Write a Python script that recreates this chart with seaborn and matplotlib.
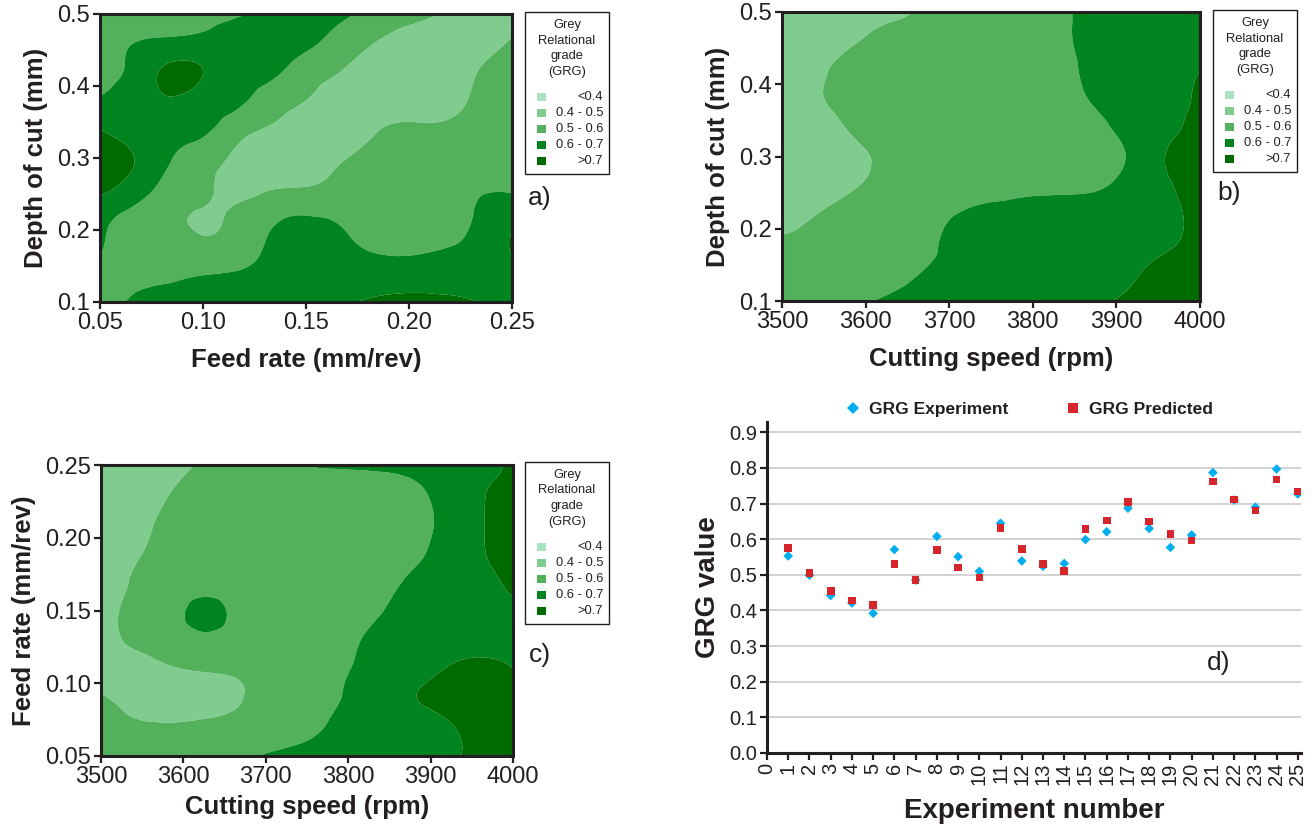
import numpy as np
import pandas as pd
import matplotlib
matplotlib.use("Agg")
import matplotlib.pyplot as plt
import matplotlib.tri as mtri
from matplotlib.patches import Rectangle
import seaborn as sns

# ------------------------------------------------------------------ data
# GRG class limits / colours of the response-surface plots
grg_levels = [0.0, 0.4, 0.5, 0.6, 0.7, 1.0]
grg_labels = ["<0.4", "0.4 - 0.5", "0.5 - 0.6", "0.6 - 0.7", ">0.7"]
grg_colors = ["#a8e4c2", "#80cc8f", "#53b05b", "#00841f", "#006b00"]
key_title = ["Grey", "Relational", "grade", "(GRG)"]

# axis ranges of the three surfaces
feed_range = [0.05, 0.25]
doc_range = [0.1, 0.5]
speed_range = [3500, 4000]

feed_ticks = [0.05, 0.10, 0.15, 0.20, 0.25]
doc_ticks = [0.1, 0.2, 0.3, 0.4, 0.5]
speed_ticks = [3500, 3600, 3700, 3800, 3900, 4000]

# GRG read on a 13 (x) by 11 (y) sampling of each surface, rows from low y to high y
grg_feed_doc = [
    [0.56, 0.61, 0.63, 0.64, 0.65, 0.67, 0.68, 0.69, 0.71, 0.72, 0.72, 0.70, 0.68],
    [0.57, 0.58, 0.585, 0.595, 0.605, 0.63, 0.65, 0.65, 0.65, 0.65, 0.65, 0.66, 0.67],
    [0.61, 0.56, 0.55, 0.52, 0.55, 0.61, 0.63, 0.62, 0.58, 0.57, 0.59, 0.63, 0.71],
    [0.64, 0.57, 0.53, 0.49, 0.52, 0.58, 0.60, 0.585, 0.55, 0.54, 0.55, 0.61, 0.66],
    [0.72, 0.66, 0.57, 0.52, 0.47, 0.49, 0.50, 0.53, 0.55, 0.56, 0.57, 0.59, 0.59],
    [0.71, 0.70, 0.61, 0.55, 0.48, 0.45, 0.45, 0.49, 0.53, 0.55, 0.56, 0.57, 0.58],
    [0.70, 0.67, 0.64, 0.62, 0.54, 0.49, 0.45, 0.44, 0.49, 0.52, 0.52, 0.55, 0.56],
    [0.61, 0.65, 0.69, 0.66, 0.62, 0.55, 0.50, 0.45, 0.44, 0.44, 0.45, 0.52, 0.55],
    [0.57, 0.63, 0.72, 0.70, 0.65, 0.62, 0.55, 0.50, 0.45, 0.44, 0.44, 0.50, 0.55],
    [0.55, 0.60, 0.62, 0.63, 0.65, 0.65, 0.62, 0.56, 0.50, 0.46, 0.44, 0.46, 0.51],
    [0.55, 0.56, 0.56, 0.57, 0.59, 0.63, 0.64, 0.62, 0.57, 0.54, 0.49, 0.45, 0.47],
]

grg_speed_doc = [
    [0.53, 0.55, 0.58, 0.61, 0.63, 0.64, 0.65, 0.66, 0.67, 0.69, 0.71, 0.73, 0.75],
    [0.52, 0.53, 0.55, 0.57, 0.60, 0.62, 0.64, 0.65, 0.66, 0.67, 0.69, 0.72, 0.74],
    [0.51, 0.52, 0.54, 0.56, 0.58, 0.62, 0.64, 0.65, 0.65, 0.66, 0.67, 0.69, 0.72],
    [0.47, 0.50, 0.53, 0.55, 0.57, 0.60, 0.62, 0.63, 0.64, 0.64, 0.65, 0.68, 0.72],
    [0.45, 0.46, 0.49, 0.53, 0.55, 0.56, 0.57, 0.58, 0.58, 0.59, 0.63, 0.69, 0.72],
    [0.44, 0.45, 0.475, 0.52, 0.54, 0.55, 0.55, 0.56, 0.56, 0.57, 0.61, 0.70, 0.73],
    [0.44, 0.46, 0.51, 0.54, 0.55, 0.55, 0.55, 0.56, 0.56, 0.58, 0.63, 0.68, 0.72],
    [0.45, 0.49, 0.53, 0.54, 0.55, 0.55, 0.55, 0.56, 0.57, 0.61, 0.64, 0.67, 0.71],
    [0.44, 0.48, 0.53, 0.54, 0.55, 0.55, 0.56, 0.57, 0.58, 0.62, 0.64, 0.66, 0.70],
    [0.43, 0.46, 0.49, 0.53, 0.54, 0.55, 0.56, 0.57, 0.59, 0.62, 0.64, 0.65, 0.67],
    [0.43, 0.44, 0.45, 0.47, 0.51, 0.54, 0.56, 0.57, 0.59, 0.62, 0.64, 0.65, 0.66],
]

grg_speed_feed = [
    [0.52, 0.53, 0.54, 0.56, 0.58, 0.61, 0.63, 0.65, 0.66, 0.67, 0.69, 0.71, 0.72],
    [0.52, 0.51, 0.51, 0.52, 0.54, 0.56, 0.58, 0.62, 0.64, 0.66, 0.69, 0.72, 0.73],
    [0.51, 0.47, 0.45, 0.46, 0.49, 0.55, 0.57, 0.60, 0.63, 0.69, 0.72, 0.73, 0.72],
    [0.45, 0.46, 0.49, 0.51, 0.52, 0.55, 0.57, 0.59, 0.63, 0.66, 0.70, 0.72, 0.70],
    [0.45, 0.52, 0.55, 0.58, 0.56, 0.55, 0.55, 0.57, 0.62, 0.64, 0.66, 0.67, 0.67],
    [0.44, 0.53, 0.56, 0.63, 0.57, 0.55, 0.55, 0.56, 0.59, 0.63, 0.65, 0.66, 0.68],
    [0.44, 0.51, 0.54, 0.56, 0.55, 0.55, 0.55, 0.56, 0.57, 0.61, 0.64, 0.67, 0.72],
    [0.44, 0.49, 0.53, 0.55, 0.55, 0.55, 0.55, 0.56, 0.56, 0.58, 0.63, 0.69, 0.73],
    [0.43, 0.47, 0.52, 0.54, 0.55, 0.55, 0.55, 0.56, 0.56, 0.57, 0.62, 0.69, 0.73],
    [0.43, 0.45, 0.50, 0.53, 0.54, 0.55, 0.56, 0.56, 0.57, 0.58, 0.63, 0.69, 0.73],
    [0.43, 0.44, 0.47, 0.51, 0.53, 0.56, 0.60, 0.61, 0.61, 0.62, 0.64, 0.66, 0.72],
]

# panel d
experiment_no = list(range(1, 26))
grg_experiment = [0.553, 0.499, 0.442, 0.421, 0.392, 0.571, 0.485, 0.608, 0.551, 0.510,
                  0.645, 0.539, 0.524, 0.532, 0.599, 0.621, 0.687, 0.630, 0.577, 0.612,
                  0.787, 0.710, 0.690, 0.797, 0.727]
grg_predicted = [0.576, 0.505, 0.455, 0.428, 0.415, 0.531, 0.486, 0.569, 0.521, 0.493,
                 0.632, 0.572, 0.531, 0.510, 0.628, 0.652, 0.705, 0.650, 0.614, 0.596,
                 0.762, 0.711, 0.681, 0.768, 0.734]
series_names = ["GRG Experiment", "GRG Predicted"]
series_colors = ["#00aeef", "#d7262b"]
grg_ticks = [0.0, 0.1, 0.2, 0.3, 0.4, 0.5, 0.6, 0.7, 0.8, 0.9]

# ------------------------------------------------------------------ style
INK = "#231f20"
sns.set_theme(style="ticks")
plt.rcParams["font.family"] = ["Liberation Sans", "DejaVu Sans"]
plt.rcParams.update({
    "text.color": INK, "axes.labelcolor": INK, "xtick.color": INK, "ytick.color": INK,
    "axes.edgecolor": INK,
})

W, H = 1312, 827
fig = plt.figure(figsize=(W / 100, H / 100), dpi=100)


def px_axes(l, t, r, b):
    return fig.add_axes([l / W, 1 - b / H, (r - l) / W, (b - t) / H])


def fx(p):
    return p / W


def fy(p):
    return 1 - p / H


def draw_surface(ax, xr, yr, grid, xticks, yticks, xfmt, yfmt, xlabel, ylabel, xpad):
    z = np.asarray(grid, dtype=float)
    ny, nx = z.shape
    U, V = np.meshgrid(np.linspace(0, 1, nx), np.linspace(0, 1, ny))
    tri = mtri.Triangulation(U.ravel(), V.ravel())
    interp = mtri.CubicTriInterpolator(tri, z.ravel(), kind="min_E")
    uf, vf = np.meshgrid(np.linspace(1e-7, 1 - 1e-7, 500), np.linspace(1e-7, 1 - 1e-7, 500))
    zf = np.ma.filled(interp(uf, vf), np.nan)
    xf = xr[0] + uf * (xr[1] - xr[0])
    yf = yr[0] + vf * (yr[1] - yr[0])
    ax.contourf(xf, yf, zf, levels=grg_levels, colors=grg_colors, antialiased=True)
    ax.set_xlim(*xr)
    ax.set_ylim(*yr)
    ax.set_xticks(xticks)
    ax.set_yticks(yticks)
    ax.set_xticklabels([xfmt.format(v) for v in xticks])
    ax.set_yticklabels([yfmt.format(v) for v in yticks])
    ax.tick_params(direction="out", length=5, width=1.6, labelsize=17, pad=2)
    for sp in ax.spines.values():
        sp.set_linewidth(2.2)
        sp.set_color(INK)
    ax.set_xlabel(xlabel, fontsize=18.5, fontweight="bold", labelpad=xpad)
    ax.set_ylabel(ylabel, fontsize=18.5, fontweight="bold", labelpad=7)


def draw_key(x0, y0):
    fig.add_artist(Rectangle((fx(x0), fy(y0 + 162)), 84 / W, 162 / H,
                             transform=fig.transFigure, fill=False, ec=INK, lw=1.0))
    for i, line in enumerate(key_title):
        fig.text(fx(x0 + 42), fy(y0 + 13 + 15.5 * i), line, ha="center", va="center",
                 fontsize=9.3, color=INK)
    for i, (lab, col) in enumerate(zip(grg_labels, grg_colors)):
        cy = y0 + 85 + 16 * i
        fig.add_artist(Rectangle((fx(x0 + 12), fy(cy + 4)), 9 / W, 8 / H,
                                 transform=fig.transFigure, fc=col, ec="none"))
        fig.text(fx(x0 + 78), fy(cy), lab, ha="right", va="center", fontsize=9.3, color=INK)


# ------------------------------------------------------------------ panel a
ax_a = px_axes(100, 14, 512, 302)
draw_surface(ax_a, feed_range, doc_range, grg_feed_doc, feed_ticks, doc_ticks,
             "{:.2f}", "{:.1f}", "Feed rate (mm/rev)", "Depth of cut (mm)", 10)
draw_key(525, 12)
fig.text(fx(540), fy(198), "a)", fontsize=19, ha="center", va="center")

# ------------------------------------------------------------------ panel b
ax_b = px_axes(782, 12, 1200, 301)
draw_surface(ax_b, speed_range, doc_range, grg_speed_doc, speed_ticks, doc_ticks,
             "{:.0f}", "{:.1f}", "Cutting speed (rpm)", "Depth of cut (mm)", 10)
draw_key(1213, 10)
fig.text(fx(1229), fy(193), "b)", fontsize=19, ha="center", va="center")

# ------------------------------------------------------------------ panel c
ax_c = px_axes(101, 465, 513, 756)
draw_surface(ax_c, speed_range, feed_range, grg_speed_feed, speed_ticks, feed_ticks,
             "{:.0f}", "{:.2f}", "Cutting speed (rpm)", "Feed rate (mm/rev)", 5)
draw_key(525, 462)
fig.text(fx(540), fy(655), "c)", fontsize=19, ha="center", va="center")

# ------------------------------------------------------------------ panel d
ax_d = px_axes(767, 422, 1301, 753)
df = pd.DataFrame({
    "Experiment": experiment_no + experiment_no,
    "GRG": grg_experiment + grg_predicted,
    "Series": [series_names[0]] * len(experiment_no) + [series_names[1]] * len(experiment_no),
})
sns.scatterplot(data=df, x="Experiment", y="GRG", hue="Series", style="Series", size="Series",
                palette=dict(zip(series_names, series_colors)),
                markers=dict(zip(series_names, ["D", "s"])),
                sizes=dict(zip(series_names, [24, 30])),
                linewidth=0, ax=ax_d, zorder=3)
ax_d.set_xlim(0, 25.15)
ax_d.set_ylim(0, 0.929)
ax_d.set_xticks(list(range(0, 26)))
ax_d.set_xticklabels([str(v) for v in range(0, 26)], rotation=90)
ax_d.set_yticks(grg_ticks)
ax_d.set_yticklabels(["{:.1f}".format(v) for v in grg_ticks])
ax_d.yaxis.grid(True, color="#d2d2d2", lw=1.4)
ax_d.xaxis.grid(False)
ax_d.set_axisbelow(True)
sns.despine(ax=ax_d)
for side in ["left", "bottom"]:
    ax_d.spines[side].set_linewidth(2.2)
    ax_d.spines[side].set_color(INK)
ax_d.tick_params(direction="out", length=5, width=1.6, labelsize=14.5, pad=2)
ax_d.set_xlabel("Experiment number", fontsize=20, fontweight="bold", labelpad=9)
ax_d.set_ylabel("GRG value", fontsize=20, fontweight="bold", labelpad=6)
sns.move_legend(ax_d, "center left", bbox_to_anchor=(846 / W, fy(409)),
                bbox_transform=fig.transFigure, ncol=2, frameon=False, title=None,
                prop={"weight": "bold", "size": 12.5}, handlelength=0.8,
                handletextpad=0.5, columnspacing=3.35, borderpad=0, borderaxespad=0,
                markerscale=1.2)
fig.text(fx(1219), fy(663), "d)", fontsize=19, ha="center", va="center")

fig.savefig("out.png", dpi=100)
